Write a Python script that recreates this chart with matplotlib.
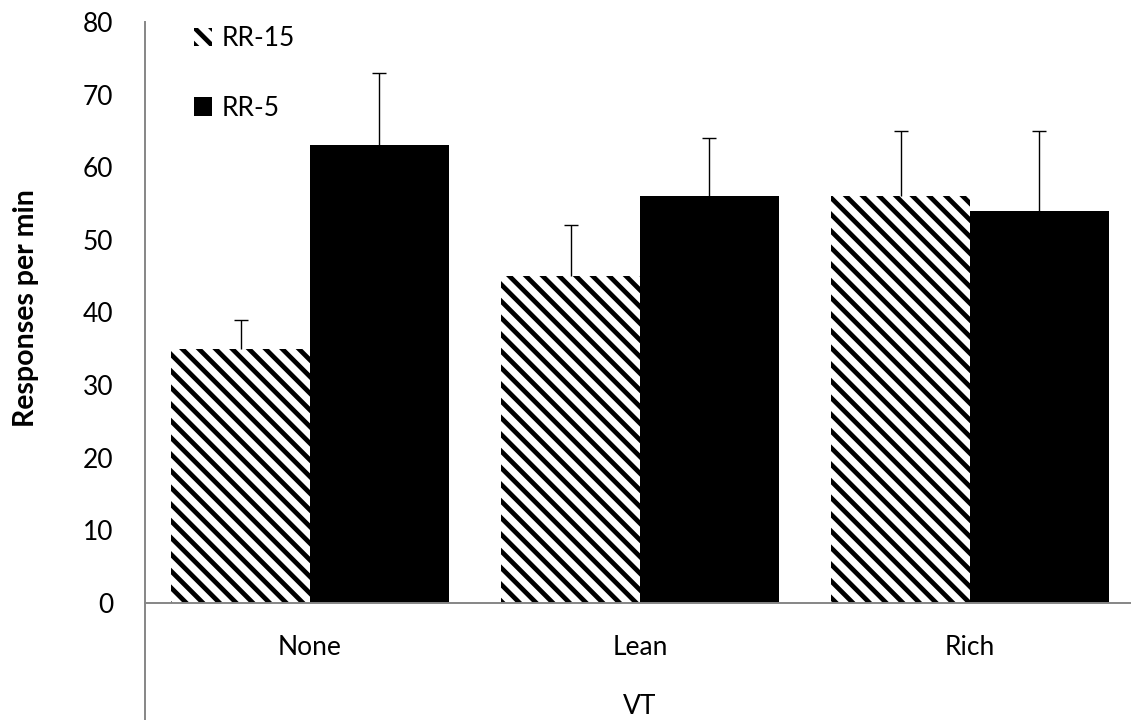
import numpy as np
import matplotlib
matplotlib.use('Agg')
import matplotlib.pyplot as plt

plt.rcParams['font.family'] = ['Lato', 'DejaVu Sans']
plt.rcParams['hatch.linewidth'] = 3.4

categories = ['None', 'Lean', 'Rich']
rr15 = [35, 45, 56]
rr15_err = [4, 7, 9]
rr5 = [63, 56, 54]
rr5_err = [10, 8, 11]
yticks = [0, 10, 20, 30, 40, 50, 60, 70, 80]

spine_col = '#868686'

fig = plt.figure(figsize=(11.31, 7.27), dpi=100)
ax = fig.add_axes([145/1131, 1-603/727, 990/1131, (603-22)/727])
assert isinstance(ax, plt.Axes)

x = np.arange(len(categories))
w = 0.42

b1 = ax.bar(x - w/2, rr15, w, facecolor='white', edgecolor='black',
            hatch='\\\\', linewidth=0, label='RR-15')
b2 = ax.bar(x + w/2, rr5, w, facecolor='black', edgecolor='black',
            linewidth=0, label='RR-5')

for xs, vals, errs in [(x - w/2, rr15, rr15_err), (x + w/2, rr5, rr5_err)]:
    _, caps, _ = ax.errorbar(xs, vals, yerr=[np.zeros(len(errs)), errs],
                             fmt='none', ecolor='black', elinewidth=1.0,
                             capsize=4.7, capthick=1.0)
    caps[0].set_visible(False)

ax.set_xlim(-0.5, 2.5)
ax.set_ylim(0, 80)
ax.set_yticks(yticks)
ax.set_xticks(x)
ax.set_xticklabels(categories)
ax.tick_params(axis='both', length=0, labelsize=19)
ax.tick_params(axis='y', pad=23)
ax.tick_params(axis='x', pad=23)

for s in ['top', 'right']:
    ax.spines[s].set_visible(False)
for s in ['left', 'bottom']:
    ax.spines[s].set_color(spine_col)
    ax.spines[s].set_linewidth(1.4)

# left axis line runs on below the category axis
ax.plot([0, 0], [0, -(720-603)/(603-22)], transform=ax.transAxes,
        color=spine_col, lw=1.4, clip_on=False, solid_capstyle='butt')

fig.text(640/1131, 1-706/727, 'VT', ha='center', va='center', fontsize=19)
fig.text(26/1131, 1-308/727, 'Responses per min', ha='center', va='center',
         rotation=90, fontsize=20.5, fontweight='bold')

ax.legend(handles=[b1, b2], loc='upper left', frameon=False,
          bbox_to_anchor=(194/1131, 1-26/727), bbox_transform=fig.transFigure,
          borderpad=0, borderaxespad=0, fontsize=19, handlelength=0.7,
          handleheight=0.7, handletextpad=0.35, labelspacing=1.7)

fig.savefig('out.png', dpi=100)
